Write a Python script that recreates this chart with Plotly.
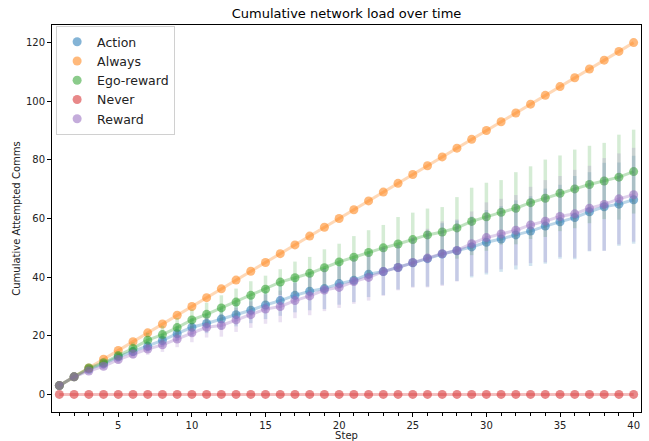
import plotly.graph_objects as go

steps = list(range(1, 41))

always = [3 * s for s in steps]
never = [0] * 40

action = [3, 6, 8.6, 10.4, 12.8, 14.6, 16.4, 18.4, 20.7, 22.9,
          24.2, 25.7, 27.2, 28.7, 30.5, 32.0, 33.8, 35.2, 36.1, 37.8,
          38.9, 41.0, 41.9, 43.3, 44.9, 46.3, 47.9, 49.0, 50.3, 51.9,
          53.0, 54.4, 55.7, 57.4, 58.9, 60.3, 62.3, 64.0, 64.9, 66.4]
action_err = [0, 0, 0.5, 0.8, 1.2, 1.5, 1.8, 2.2, 2.6, 3.0,
              3.3, 3.6, 4.0, 4.4, 4.8, 5.2, 5.8, 6.5, 7.0, 7.2,
              7.4, 7.8, 8.0, 7.5, 8.2, 9.5, 10.5, 10.3, 10.4, 11.0,
              11.2, 11.8, 11.9, 12.8, 12.6, 14.2, 13.5, 15.0, 14.2, 15.0]

ego = [3, 6, 9.0, 10.8, 13.2, 15.7, 18.5, 20.4, 22.8, 25.4,
       27.3, 29.5, 31.5, 33.8, 35.9, 38.3, 39.8, 41.3, 43.2, 45.2,
       46.8, 48.4, 50.0, 51.3, 52.8, 54.4, 55.4, 56.8, 59.0, 60.6,
       62.1, 63.5, 65.4, 66.9, 68.6, 70.1, 71.6, 72.8, 74.1, 76.0]
ego_err = [0, 0, 0.5, 1.0, 1.5, 2.0, 2.5, 3.0, 3.3, 3.6,
           4.0, 4.3, 4.6, 4.8, 4.6, 4.4, 5.5, 5.6, 6.3, 6.2,
           7.2, 7.6, 7.8, 9.2, 9.2, 9.0, 8.5, 10.5, 11.5, 11.6,
           11.0, 12.3, 12.4, 13.2, 12.9, 13.4, 13.2, 13.0, 14.5, 14.3]

reward = [3, 6, 8.0, 9.6, 11.9, 13.8, 15.5, 16.9, 18.9, 21.0,
          22.9, 23.5, 25.4, 27.2, 29.1, 30.0, 32.0, 33.6, 35.6, 36.5,
          38.5, 39.9, 41.9, 43.3, 45.0, 46.5, 48.0, 49.1, 51.4, 53.5,
          54.7, 56.0, 57.8, 59.1, 60.7, 61.6, 63.5, 64.8, 66.7, 68.1]
reward_err = [0, 0, 0.6, 1.0, 1.3, 1.6, 2.0, 2.4, 2.8, 3.2,
              3.5, 3.8, 4.1, 4.5, 5.0, 5.4, 6.0, 6.6, 7.2, 7.0,
              7.6, 7.9, 8.3, 7.8, 8.6, 10.0, 11.0, 10.6, 11.0, 12.0,
              12.0, 12.0, 13.0, 14.0, 13.8, 15.0, 14.5, 15.8, 15.5, 16.0]

series = [
    ("Action", action, action_err, (31, 119, 180)),
    ("Always", always, None, (255, 127, 14)),
    ("Ego-reward", ego, ego_err, (44, 160, 44)),
    ("Never", never, None, (214, 39, 40)),
    ("Reward", reward, reward_err, (148, 103, 189)),
]

def rgba(c, a):
    return f"rgba({c[0]},{c[1]},{c[2]},{a})"

fig = go.Figure()
for name, vals, err, col in series:
    tr = dict(
        x=steps, y=vals, mode="lines+markers", name=name, showlegend=False,
        line=dict(color=rgba(col, 0.3), width=3),
        marker=dict(color=rgba(col, 0.55), size=9, line=dict(width=0)),
    )
    if err is not None:
        tr["error_y"] = dict(type="data", array=err, visible=True,
                             thickness=3.5, width=0, color=rgba(col, 0.2))
    fig.add_trace(go.Scatter(**tr))

for name, vals, err, col in series:
    fig.add_trace(go.Scatter(
        x=[None], y=[None], mode="markers", name=name, showlegend=True,
        marker=dict(color=rgba(col, 0.55), size=9, line=dict(width=0)),
    ))

axis_common = dict(
    showline=True, linecolor="black", linewidth=1, mirror=True,
    ticks="outside", ticklen=4, tickcolor="black", tickwidth=1,
    showgrid=False, zeroline=False, automargin=False,
    tickfont=dict(size=10, color="#222"),
)

fig.update_layout(
    width=649, height=441,
    margin=dict(l=52, r=8, t=25, b=29),
    paper_bgcolor="white", plot_bgcolor="white",
    font=dict(family="DejaVu Sans", color="#222"),
    title=dict(text="Cumulative network load over time", x=0.5, xref="paper",
               y=1 - 13 / 441, yref="container", yanchor="middle",
               font=dict(size=13, color="black")),
    legend=dict(x=0.007, y=0.997, xanchor="left", yanchor="top",
                bgcolor="rgba(255,255,255,0.8)", bordercolor="#d0d0d0",
                borderwidth=1, font=dict(size=12.5, color="#222"),
                tracegroupgap=0, itemwidth=30),
    xaxis=dict(range=[0.5, 40.5], tick0=0, dtick=5,
               minor=dict(dtick=1, ticks="outside", ticklen=2.5, tickcolor="black"),
               title=dict(text="Step", font=dict(size=10), standoff=1),
               **axis_common),
    yaxis=dict(range=[-6, 126], tick0=0, dtick=20,
               title=dict(text="Cumulative Attempted Comms", font=dict(size=10), standoff=3),
               **axis_common),
)

fig.write_html("out.html", config={"displayModeBar": False},
               post_script="document.body.style.margin='0';document.body.style.overflow='hidden';")
